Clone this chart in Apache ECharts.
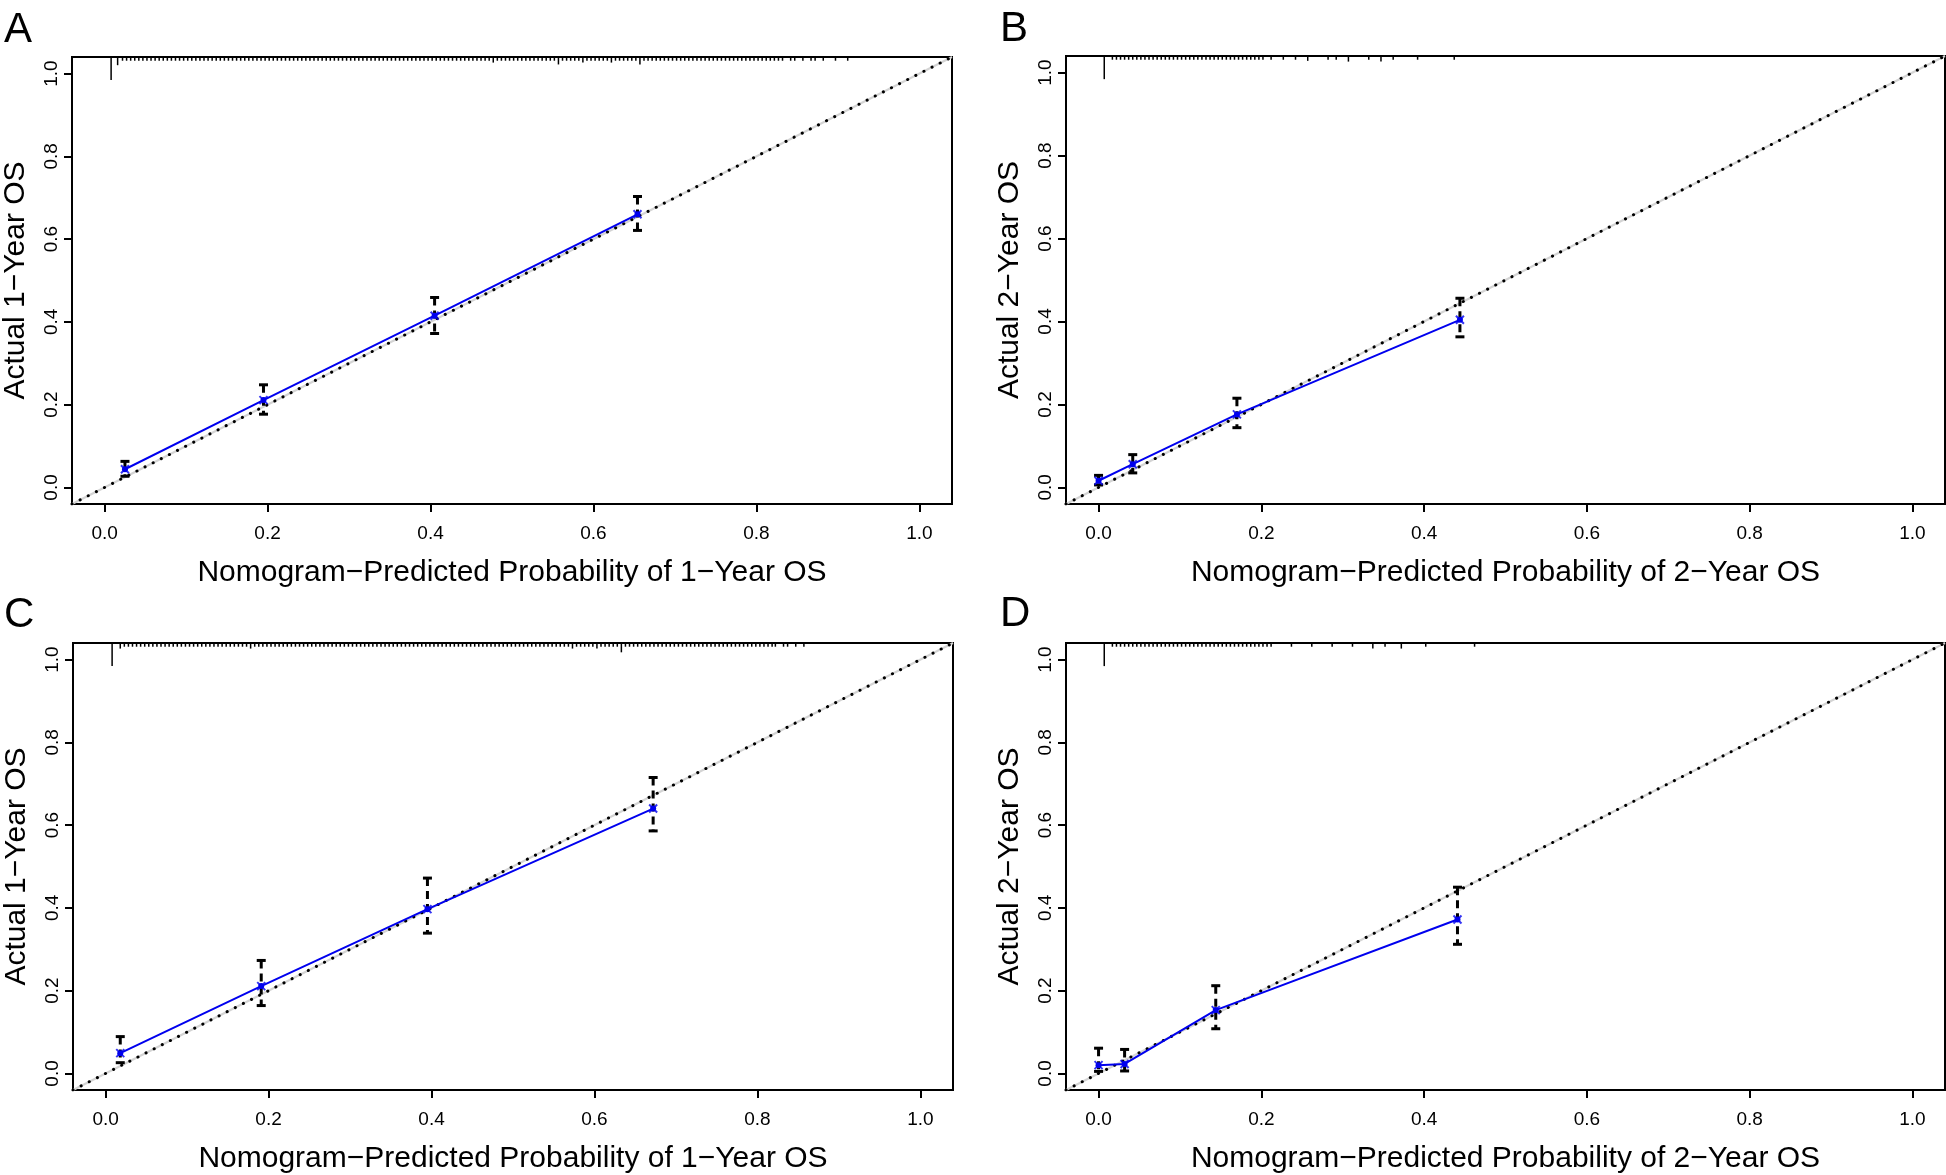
<!DOCTYPE html>
<html><head><meta charset="utf-8">
<script src="https://cdn.jsdelivr.net/npm/echarts@6/dist/echarts.min.js"></script>
<style>html,body{margin:0;padding:0;background:#fff}#c{width:1946px;height:1175px}</style>
</head><body><div id="c"></div>
<script>
// ---- texts ----
const panelLetters = ['A', 'B', 'C', 'D'];
const xTitles = ['Nomogram\u2212Predicted Probability of 1\u2212Year OS', 'Nomogram\u2212Predicted Probability of 2\u2212Year OS',
                 'Nomogram\u2212Predicted Probability of 1\u2212Year OS', 'Nomogram\u2212Predicted Probability of 2\u2212Year OS'];
const yTitles = ['Actual 1\u2212Year OS', 'Actual 2\u2212Year OS', 'Actual 1\u2212Year OS', 'Actual 2\u2212Year OS'];
const tickValues = [0, 0.2, 0.4, 0.6, 0.8, 1.0];
const tickLabels = ['0.0', '0.2', '0.4', '0.6', '0.8', '1.0'];
const axisMin = -0.04, axisMax = 1.04;

// ---- panel A ----
const predA = [0.025, 0.195, 0.405, 0.654];
const obsA  = [0.044, 0.211, 0.415, 0.660];
const loA   = [0.027, 0.177, 0.372, 0.621];
const hiA   = [0.063, 0.248, 0.459, 0.703];
// ---- panel B ----
const predB = [0.000, 0.042, 0.170, 0.444];
const obsB  = [0.016, 0.056, 0.176, 0.404];
const loB   = [0.006, 0.035, 0.144, 0.363];
const hiB   = [0.029, 0.079, 0.215, 0.456];
// ---- panel C ----
const predC = [0.018, 0.191, 0.395, 0.672];
const obsC  = [0.049, 0.211, 0.397, 0.640];
const loC   = [0.026, 0.164, 0.339, 0.586];
const hiC   = [0.089, 0.273, 0.472, 0.715];
// ---- panel D ----
const predD = [0.000, 0.032, 0.144, 0.441];
const obsD  = [0.020, 0.023, 0.153, 0.372];
const loD   = [0.005, 0.006, 0.108, 0.312];
const hiD   = [0.061, 0.058, 0.212, 0.450];

// ---- rug of predicted values (per-mille); unit height unless listed in the *Tall table ----
const rugAx = [8,16,22,27,32,37,42,47,52,57,62,67,72,77,82,87,92,97,102,107,112,117,122,127,132,137,142,147,152,157,162,167,172,177,182,187,192,197,202,207,212,217,222,227,232,237,242,247,252,257,262,267,272,277,282,287,292,297,302,307,312,317,322,327,332,337,342,347,352,357,362,367,372,377,382,387,392,397,402,407,412,417,422,427,432,437,442,447,452,457,462,467,472,477,482,487,492,497,502,507,512,517,522,527,532,537,542,547,552,557,562,567,572,577,582,587,592,597,602,607,612,617,622,627,632,637,642,647,652,657,662,667,672,677,682,687,692,697,702,707,712,717,722,727,732,737,742,747,752,757,762,767,772,777,782,787,792,797,802,807,812,817,822,827,832,842,847,857,867,872,882,897,912];
const rugATall = {8: 6.2, 16: 2.2, 477: 1.5, 557: 2, 587: 1.5, 622: 1.5, 657: 2};
const rugBx = [7,17,22,27,32,37,42,47,52,57,62,67,72,77,82,87,92,97,102,107,112,117,122,127,132,137,142,147,152,157,162,167,172,177,182,187,192,197,202,212,227,242,257,282,292,307,332,347,362,392,437];
const rugBTall = {7: 6.2, 257: 1.3, 307: 1.5, 347: 1.5};
const rugCx = [8,18,23,28,33,38,43,48,53,58,63,68,73,78,83,88,93,98,103,108,113,118,123,128,133,138,143,148,153,158,163,168,173,178,183,188,193,198,203,208,213,218,223,228,233,238,243,248,253,258,263,268,273,278,283,288,293,298,303,308,313,318,323,328,333,338,343,348,353,358,363,368,373,378,383,388,393,398,403,408,413,418,423,428,433,438,443,448,453,458,463,468,473,478,483,488,493,498,503,508,513,518,523,528,533,538,543,548,553,558,563,568,573,578,583,588,593,598,603,608,613,618,623,628,633,638,643,648,653,658,663,668,673,678,683,688,693,698,703,708,713,718,723,728,733,738,743,748,753,758,763,768,773,778,783,788,793,798,803,808,813,818,822,832,837,847,857];
const rugCTall = {8: 6.2, 18: 1.5, 178: 1.5, 573: 1.5, 603: 1.5, 633: 2.5};
const rugDx = [7,17,22,27,32,37,42,47,52,57,62,67,72,77,82,87,92,97,102,107,112,117,122,127,132,137,142,147,152,157,162,167,172,177,182,187,192,197,202,207,212,237,262,287,312,337,352,372,402,462];
const rugDTall = {7: 6.2, 337: 1.5, 372: 1.5};

const panels = [
  {pred: predA, obs: obsA, lo: loA, hi: hiA, rx: rugAx, rt: rugATall},
  {pred: predB, obs: obsB, lo: loB, hi: hiB, rx: rugBx, rt: rugBTall},
  {pred: predC, obs: obsC, lo: loC, hi: hiC, rx: rugCx, rt: rugCTall},
  {pred: predD, obs: obsD, lo: loD, hi: hiD, rx: rugDx, rt: rugDTall}
];
const grids = [
  {left: 72, top: 57, width: 880, height: 447},
  {left: 1066, top: 56, width: 879, height: 448},
  {left: 73, top: 643, width: 880, height: 448},
  {left: 1066, top: 643, width: 879, height: 448}
];
const letterPos = [[4, 9], [1000, 8], [4, 594], [1000, 593]];

const FONT = '"Liberation Sans", Arial, Helvetica, sans-serif';
const RUG_UNIT = 0.009;

const option = {
  backgroundColor: '#fff',
  animation: false,
  textStyle: {fontFamily: FONT},
  grid: grids.map(g => Object.assign({show: true, borderColor: '#000', borderWidth: 2, backgroundColor: 'transparent'}, g)),
  xAxis: [], yAxis: [], series: [],
  graphic: panelLetters.map((t, i) => ({
    type: 'text', left: letterPos[i][0], top: letterPos[i][1],
    style: {text: t, font: '42px ' + FONT, fill: '#000'}
  }))
};

const fmt = v => tickLabels[tickValues.findIndex(t => Math.abs(t - v) < 1e-9)];

panels.forEach((p, i) => {
  option.xAxis.push({
    gridIndex: i, type: 'value', min: axisMin, max: axisMax, position: 'bottom',
    splitLine: {show: false}, axisLine: {show: false, onZero: false},
    axisTick: {show: true, inside: false, customValues: tickValues, length: 8, lineStyle: {color: '#000', width: 2}},
    axisLabel: {customValues: tickValues, formatter: fmt, fontSize: 19, color: '#000', margin: 20, fontFamily: FONT},
    name: xTitles[i], nameLocation: 'middle', nameGap: 54,
    nameTextStyle: {fontSize: 30, color: '#000', fontFamily: FONT}
  });
  option.yAxis.push({
    gridIndex: i, type: 'value', min: axisMin, max: axisMax, position: 'left',
    splitLine: {show: false}, axisLine: {show: false, onZero: false},
    axisTick: {show: true, inside: false, customValues: tickValues, length: 8, lineStyle: {color: '#000', width: 2}},
    axisLabel: {customValues: tickValues, formatter: fmt, fontSize: 19, color: '#000', margin: 11, rotate: 90, fontFamily: FONT},
    name: yTitles[i], nameLocation: 'middle', nameGap: 41,
    nameTextStyle: {fontSize: 30, color: '#000', fontFamily: FONT}
  });
  // reference diagonal (gray solid beneath black dotted)
  option.series.push({
    type: 'line', xAxisIndex: i, yAxisIndex: i, silent: true, symbol: 'none', z: 1,
    data: [[axisMin, axisMin], [axisMax, axisMax]],
    lineStyle: {color: '#d4d4d4', width: 2}
  });
  option.series.push({
    type: 'line', xAxisIndex: i, yAxisIndex: i, silent: true, symbol: 'none', z: 2,
    data: [[axisMin, axisMin], [axisMax, axisMax]],
    lineStyle: {color: '#000', width: 3, type: [0.1, 9], cap: 'round'}
  });
  // error bars
  option.series.push({
    type: 'custom', xAxisIndex: i, yAxisIndex: i, silent: true, z: 3,
    data: p.pred.map((x, k) => [x, p.lo[k], p.hi[k]]),
    renderItem: (params, api) => {
      const top = api.coord([api.value(0), api.value(2)]);
      const bot = api.coord([api.value(0), api.value(1)]);
      const cap = 4.5;
      const st = {stroke: '#000', lineWidth: 3};
      return {type: 'group', children: [
        {type: 'line', shape: {x1: top[0], y1: top[1], x2: bot[0], y2: bot[1]}, style: Object.assign({lineDash: [8, 5]}, st)},
        {type: 'line', shape: {x1: top[0] - cap, y1: top[1], x2: top[0] + cap, y2: top[1]}, style: st},
        {type: 'line', shape: {x1: bot[0] - cap, y1: bot[1], x2: bot[0] + cap, y2: bot[1]}, style: st}
      ]};
    }
  });
  // calibration line (observed)
  option.series.push({
    type: 'line', xAxisIndex: i, yAxisIndex: i, silent: true, z: 4,
    data: p.pred.map((x, k) => [x, p.obs[k]]),
    lineStyle: {color: '#0000ee', width: 2},
    symbol: 'circle', symbolSize: 6, itemStyle: {color: '#0000ee'}
  });
  // x markers
  option.series.push({
    type: 'scatter', xAxisIndex: i, yAxisIndex: i, silent: true, z: 5,
    data: p.pred.map((x, k) => [x, p.obs[k]]),
    symbol: 'path://M0,0L10,10M10,0L0,10', symbolSize: 8,
    itemStyle: {color: 'none', borderColor: '#0000ee', borderWidth: 2}
  });
  // rug of predicted values
  option.series.push({
    type: 'custom', xAxisIndex: i, yAxisIndex: i, silent: true, z: 3,
    data: p.rx.map(x => [x / 1000, p.rt[x] || 1]),
    renderItem: (params, api) => {
      const a = api.coord([api.value(0), axisMax]);
      const b = api.coord([api.value(0), axisMax - api.value(1) * RUG_UNIT]);
      return {type: 'line', shape: {x1: a[0], y1: a[1], x2: b[0], y2: b[1]}, style: {stroke: '#000', lineWidth: 1.5}};
    }
  });
});

const chart = echarts.init(document.getElementById('c'), null, {renderer: 'canvas'});
chart.setOption(option);
</script></body></html>
